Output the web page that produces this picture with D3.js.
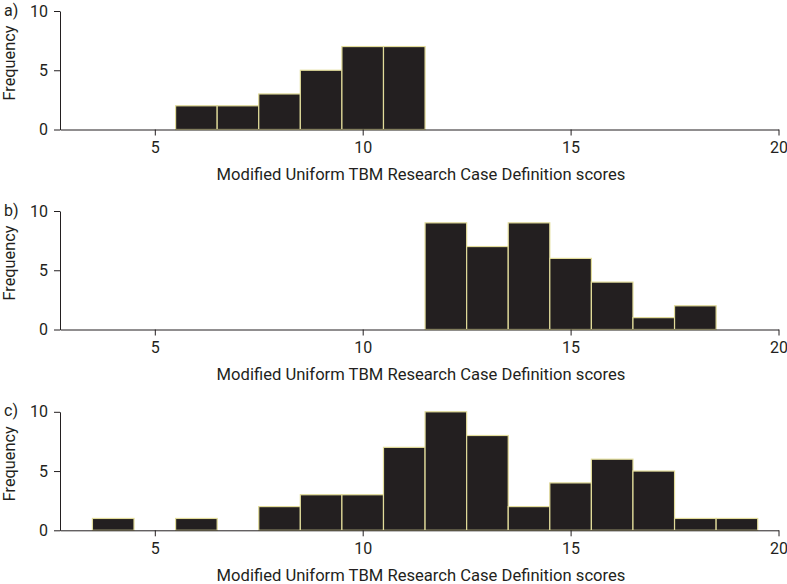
<!DOCTYPE html>
<html><head><meta charset="utf-8">
<script src="https://cdn.jsdelivr.net/npm/d3@7"></script>
<style>body{margin:0;background:#fff}svg{display:block}text{font-family:Roboto,"DejaVu Sans",sans-serif;fill:#231f20}</style>
</head><body><svg id="c" width="787" height="584"></svg>
<script>
const panelLabels = ["a)", "b)", "c)"];
const scoresA = [6, 7, 8, 9, 10, 11];
const countsA = [2, 2, 3, 5, 7, 7];
const scoresB = [12, 13, 14, 15, 16, 17, 18];
const countsB = [9, 7, 9, 6, 4, 1, 2];
const scoresC = [4, 6, 8, 9, 10, 11, 12, 13, 14, 15, 16, 17, 18, 19];
const countsC = [1, 1, 2, 3, 3, 7, 10, 8, 2, 4, 6, 5, 1, 1];
const xTicks = [5, 10, 15, 20];
const yTicks = [0, 5, 10];
const xTitle = "Modified Uniform TBM Research Case Definition scores";
const yTitle = "Frequency";

const panels = [
  {label: panelLabels[0], scores: scoresA, counts: countsA},
  {label: panelLabels[1], scores: scoresB, counts: countsB},
  {label: panelLabels[2], scores: scoresC, counts: countsC}
];
const offsets = [0, 200, 400.8];

const svg = d3.select("#c");
const x = d3.scaleLinear().domain([2.72, 20]).range([60, 778.5]);
const fs = 16;

panels.forEach((p, i) => {
  const top = 11 + offsets[i], bottom = 129.5 + offsets[i];
  const y = d3.scaleLinear().domain([0, 10]).range([bottom, top]);
  const g = svg.append("g");
  const data = p.scores.map((s, j) => ({s, c: p.counts[j]}));
  g.selectAll("rect").data(data).join("rect")
    .attr("x", d => x(d.s - 0.5))
    .attr("width", d => x(d.s + 0.5) - x(d.s - 0.5))
    .attr("y", d => y(d.c))
    .attr("height", d => y(0) - y(d.c))
    .attr("fill", "#231f20")
    .attr("stroke", "#e2dc9a")
    .attr("stroke-width", 1.2);

  const xa = g.append("g").attr("transform", `translate(0,${bottom})`)
    .call(d3.axisBottom(x).tickValues(xTicks).tickSizeInner(6).tickSizeOuter(0).tickPadding(6.5));
  const ya = g.append("g").attr("transform", `translate(60,0)`)
    .call(d3.axisLeft(y).tickValues(yTicks).tickSizeInner(6).tickSizeOuter(0).tickPadding(6));
  [xa, ya].forEach(a => {
    a.selectAll("path,line").attr("stroke", "#231f20").attr("stroke-width", 1);
    a.selectAll("text").attr("font-size", fs).attr("font-family", "Roboto").attr("fill", "#231f20");
  });

  g.append("text").attr("x", 421).attr("y", bottom + 50.5)
    .attr("text-anchor", "middle").attr("font-size", 16.6).text(xTitle);
  g.append("text").attr("transform", `translate(15,${63 + offsets[i]}) rotate(-90)`)
    .attr("text-anchor", "middle").attr("font-size", 16.3).text(yTitle);
  g.append("text").attr("x", 4).attr("y", 15.5 + offsets[i])
    .attr("font-size", fs).text(p.label);
});
</script></body></html>
